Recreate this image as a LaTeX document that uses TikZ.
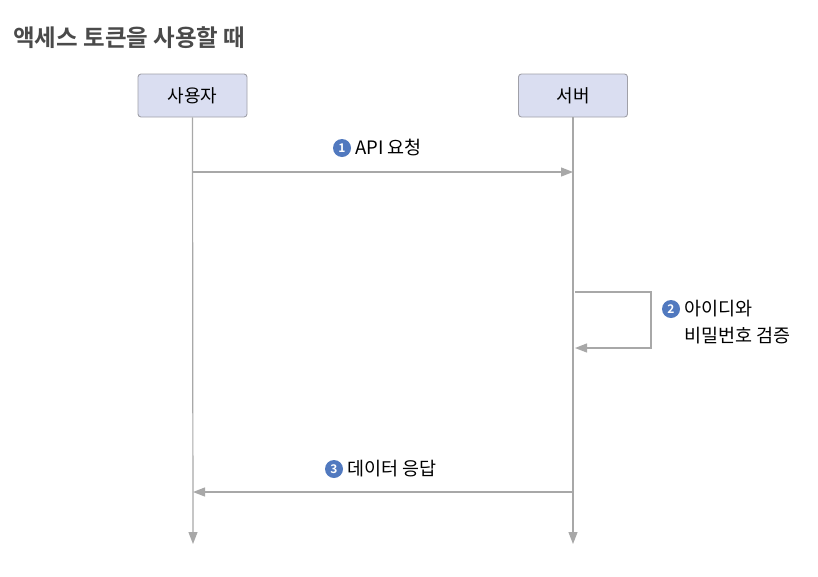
\documentclass[tikz,border=0pt]{standalone}
\usepackage{fontspec}
\setmainfont{Noto Sans CJK KR}
\newfontfamily\krbold{Noto Sans CJK KR Bold}
\usetikzlibrary{arrows.meta}
\definecolor{boxfill}{HTML}{DADEF1}
\definecolor{boxline}{HTML}{A0A0A8}
\definecolor{lineg}{HTML}{A8A8A8}
\definecolor{numblue}{HTML}{5179BF}
\definecolor{titleg}{HTML}{4A4A4A}
\tikzset{
  actor/.style={draw=boxline, fill=boxfill, rounded corners=3pt, minimum width=109pt, minimum height=43pt, font=\fontsize{18}{20}\selectfont, inner sep=0pt, line width=0.9pt},
  conn/.style={draw=lineg, line width=1.2pt, -{Triangle[length=12pt,width=9pt]}},
  life/.style={draw=lineg, line width=1.2pt, -{Triangle[length=12pt,width=9pt]}},
  num/.style={circle, fill=numblue, text=white, inner sep=0pt, minimum size=18pt, font=\krbold\fontsize{12}{12}\selectfont},
  lbl/.style={font=\fontsize{18.5}{27}\selectfont, inner sep=0pt, anchor=west, align=left}
}
\begin{document}
\begin{tikzpicture}[x=1pt,y=-1pt]
\useasboundingbox (0,0) rectangle (818,576);
\node[anchor=west, text=titleg, inner sep=0pt, font=\krbold\fontsize{23.5}{26}\selectfont] (title) at (13,38) {액세스 토큰을 사용할 때};
\node[actor] (user) at (192.5,95.5) {사용자};
\node[actor] (server) at (573,95.5) {서버};
\coordinate (uend) at (193,544);
\coordinate (send) at (573,544);
\draw[life] (user.south) -- (uend);
\draw[life] (server.south) -- (send);
% arrow 1
\coordinate (a1s) at (193,172);
\coordinate (a1e) at (573,172);
\draw[conn] (a1s) -- (a1e);
\node[num] (n1) at (342,148) {1};
\node[lbl] (l1) at (355,148) {API 요청};
% self loop
\coordinate (s1) at (575,292);
\coordinate (s2) at (651,292);
\coordinate (s3) at (651,348);
\coordinate (s4) at (575,348);
\draw[conn] (s1) -- (s2) -- (s3) -- (s4);
\node[num] (n2) at (671,309) {2};
\node[lbl] (l2) at (684,309) {아이디와};
\node[lbl] (l2b) at (684,336) {비밀번호 검증};
% arrow 3
\coordinate (a3s) at (573,492);
\coordinate (a3e) at (193,492);
\draw[conn] (a3s) -- (a3e);
\node[num] (n3) at (334,469) {3};
\node[lbl] (l3) at (347,469) {데이터 응답};
\end{tikzpicture}
\end{document}
